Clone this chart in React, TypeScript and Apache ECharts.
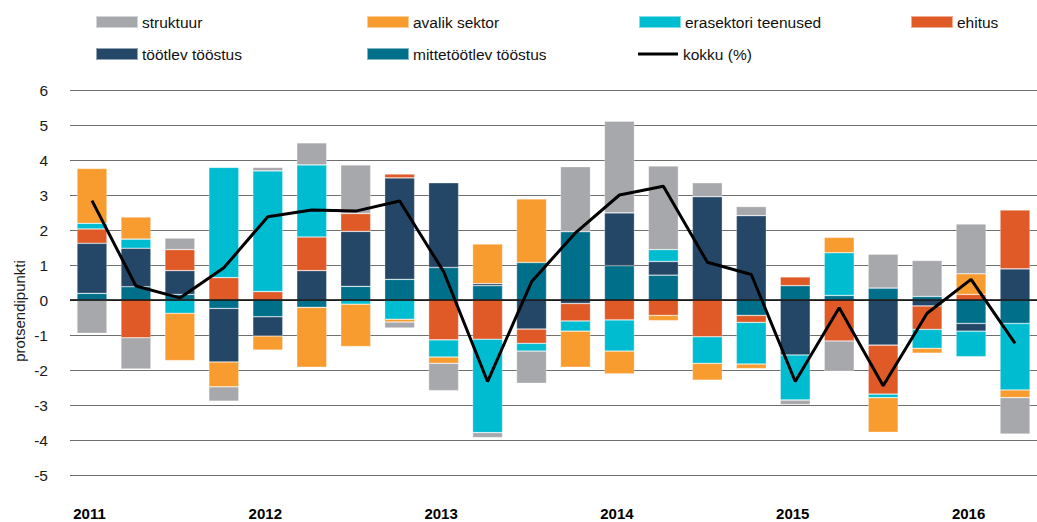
import React, { useEffect, useRef } from "react";
import * as echarts from "echarts";

const quarters = [
  "2011K1", "2011K2", "2011K3", "2011K4",
  "2012K1", "2012K2", "2012K3", "2012K4",
  "2013K1", "2013K2", "2013K3", "2013K4",
  "2014K1", "2014K2", "2014K3", "2014K4",
  "2015K1", "2015K2", "2015K3", "2015K4",
  "2016K1", "2016K2",
];

const yTicks = { min: -5, max: 6, interval: 1 };

const mittetootlev = [0.19, 0.38, 0.16, -0.24, -0.48, -0.21, 0.39, 0.59, 0.93, 0.41, 1.07, 1.95, 0.98, 0.71, 0, -0.44, 0.41, 0.13, 0.34, 0.10, -0.67, -0.67];
const tootlev = [1.43, 1.10, 0.68, -1.53, -0.55, 0.84, 1.57, 2.90, 2.42, 0.06, -0.83, -0.10, 1.51, 0.39, 2.95, 2.41, -1.57, 0, -1.29, -0.17, -0.22, 0.89];
const ehitus = [0.41, -1.08, 0.60, 0.64, 0.24, 0.96, 0.51, 0.11, -1.14, -1.12, -0.41, -0.50, -0.57, -0.44, -1.05, -0.20, 0.25, -1.17, -1.40, -0.67, 0.16, 1.68];
const erasektori = [0.16, 0.26, -0.38, 3.15, 3.45, 2.06, -0.12, -0.55, -0.49, -2.67, -0.22, -0.29, -0.89, 0.34, -0.76, -1.19, -1.29, 1.22, -0.10, -0.54, -0.73, -1.90];
const avalik = [1.57, 0.63, -1.35, -0.71, -0.40, -1.71, -1.21, -0.08, -0.18, 1.13, 1.82, -1.03, -0.65, -0.15, -0.48, -0.13, 0, 0.44, -0.99, -0.14, 0.59, -0.22];
const struktuur = [-0.95, -0.89, 0.33, -0.41, 0.10, 0.63, 1.39, -0.17, -0.78, -0.14, -0.92, 1.86, 2.62, 2.39, 0.40, 0.26, -0.13, -0.86, 0.97, 1.03, 1.42, -1.04];
const kokku = [2.84, 0.40, 0.06, 0.92, 2.38, 2.57, 2.54, 2.83, 0.81, -2.33, 0.52, 1.92, 3.0, 3.25, 1.08, 0.73, -2.33, -0.22, -2.45, -0.38, 0.59, -1.24];

const FONT = '"Liberation Sans", Arial, Helvetica, sans-serif';

export default function App() {
  const ref = useRef<HTMLDivElement>(null);
  useEffect(() => {
    if (!ref.current) return;
    const chart = echarts.init(ref.current, null, { renderer: "svg" });

    const barSeries = (name: string, data: number[], color: string) => ({
      name,
      type: "bar",
      stack: "total",
      data,
      barWidth: 30,
      itemStyle: { color, borderColor: "rgba(255,255,255,0.5)", borderWidth: 0.6 },
      z: 2,
    });

    const legendPos: [string, number, number][] = [
      ["struktuur", 95, 14],
      ["avalik sektor", 366, 14],
      ["erasektori teenused", 638, 14],
      ["ehitus", 910, 14],
      ["töötlev tööstus", 95, 46],
      ["mittetöötlev tööstus", 366, 46],
      ["kokku (%)", 638, 46],
    ];

    chart.setOption({
      animation: false,
      textStyle: { fontFamily: FONT },
      legend: legendPos.map(([name, left, top]) => ({
        data: [name === "kokku (%)" ? { name, icon: "path://M0,0 L40,0 L40,3 L0,3 Z", itemStyle: { color: "#000" } } : { name, icon: "rect" }],
        left,
        top,
        padding: 0,
        itemWidth: 42,
        itemHeight: name === "kokku (%)" ? 3 : 12,
        itemGap: 0,
        selectedMode: false,
        textStyle: { fontSize: 15.5, color: "#111", fontFamily: FONT, padding: [0, 0, 0, -1] },
      })),
      grid: { left: 70, top: 90, width: 979, height: 385, containLabel: false },
      xAxis: {
        type: "category",
        data: quarters,
        axisLine: { show: false, onZero: false },
        axisTick: { show: false },
        axisLabel: {
          interval: 0,
          margin: 31,
          fontSize: 15,
          fontWeight: "bold",
          color: "#000",
          padding: [0, 5, 0, 0],
          formatter: (v: string) => (v.endsWith("K1") ? v.slice(0, 4) : ""),
        },
        splitLine: { show: false },
      },
      yAxis: {
        type: "value",
        min: yTicks.min,
        max: yTicks.max,
        interval: yTicks.interval,
        axisLine: { show: false },
        axisTick: { show: false },
        axisLabel: { margin: 22, fontSize: 15.5, color: "#1a1a1a" },
        splitLine: { lineStyle: { color: "#6f6f6f", width: 1 } },
      },
      graphic: [
        {
          type: "text",
          x: 19,
          y: 311,
          rotation: Math.PI / 2,
          style: {
            text: "protsendipunkti",
            fontSize: 15,
            fontFamily: FONT,
            fill: "#1a1a1a",
            textAlign: "center",
            textVerticalAlign: "middle",
          },
        },
      ],
      series: [
        barSeries("mittetöötlev tööstus", mittetootlev, "#00708A"),
        barSeries("töötlev tööstus", tootlev, "#244667"),
        barSeries("ehitus", ehitus, "#E05A27"),
        barSeries("erasektori teenused", erasektori, "#00BCD0"),
        barSeries("avalik sektor", avalik, "#F89C2F"),
        barSeries("struktuur", struktuur, "#A7A8AB"),
        {
          name: "kokku (%)",
          type: "line",
          data: kokku,
          symbol: "none",
          lineStyle: { color: "#000", width: 3 },
          itemStyle: { color: "#000" },
          z: 10,
          markLine: {
            silent: true,
            symbol: "none",
            label: { show: false },
            lineStyle: { color: "#000", width: 1.5, type: "solid" },
            data: [{ yAxis: 0 }],
            z: 9,
          },
        },
      ],
    });
    return () => chart.dispose();
  }, []);
  return (
    <div
      ref={ref}
      style={{ position: "absolute", left: 0, top: 0, width: 1037, height: 522 }}
    />
  );
}
